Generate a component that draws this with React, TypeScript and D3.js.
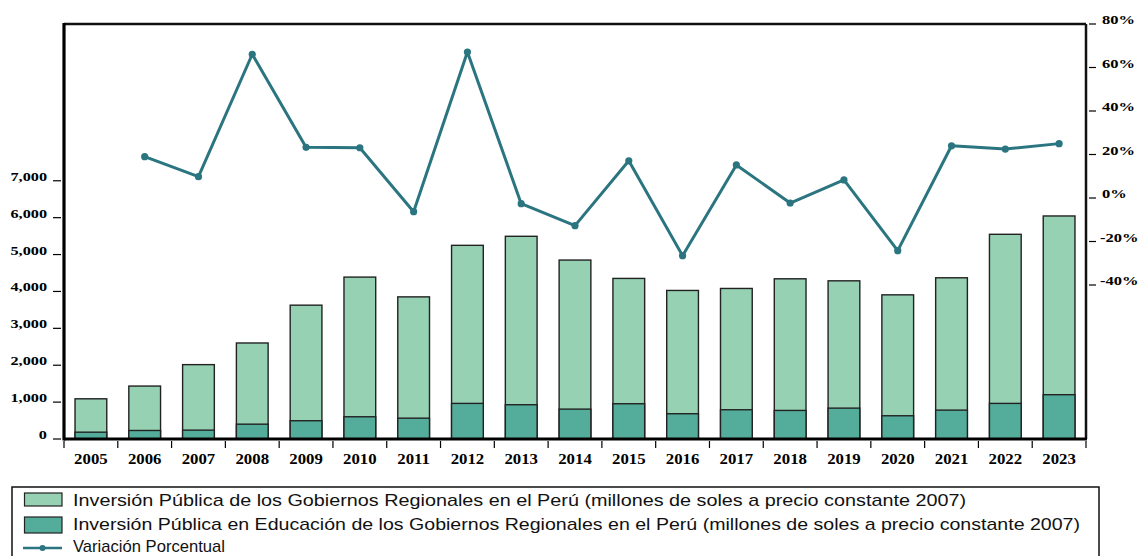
import React from 'react';
import * as d3 from 'd3';

const years = ['2005','2006','2007','2008','2009','2010','2011','2012','2013','2014','2015','2016','2017','2018','2019','2020','2021','2022','2023'];
const totalInv = [1090,1435,2016,2603,3628,4389,3853,5250,5495,4851,4353,4027,4081,4343,4288,3908,4370,5549,6046];
const eduInv = [185,231,240,402,495,603,565,965,929,810,956,685,793,774,837,630,783,965,1201];
const variation: (number | null)[] = [null,19.0,9.8,66.1,23.3,23.1,-6.3,67.1,-2.6,-12.7,17.1,-26.5,15.2,-2.3,8.3,-24.2,24.0,22.5,25.0];
const leftTicks = [0,1000,2000,3000,4000,5000,6000,7000];
const rightTicks = [-40,-20,0,20,40,60,80];
const legendLabels = [
  'Inversión Pública de los Gobiernos Regionales en el Perú (millones de soles a precio constante 2007)',
  'Inversión Pública en Educación de los Gobiernos Regionales en el Perú (millones de soles a precio constante 2007)',
  'Variación Porcentual',
];

const LIGHT = '#96d1b3';
const DARK = '#54ad9b';
const LINE = '#2a7580';

export default function App() {
  const left = 64, right = 1086, top = 24, bottom = 439;
  const x = d3.scaleBand<string>().domain(years).range([left, right]).paddingInner(0.41).paddingOuter(0.205);
  const yL = d3.scaleLinear().domain([0, 11250]).range([bottom, top]);
  const yR = d3.scaleLinear().domain([-110.8, 80]).range([bottom, top]);
  const step = x.step();
  const bw = x.bandwidth();
  const fmt = d3.format(',');
  const pts = years.map((yr, i) => ({ yr, v: variation[i] })).filter(d => d.v !== null) as { yr: string; v: number }[];
  const line = d3.line<{ yr: string; v: number }>().x(d => (x(d.yr) as number) + bw / 2).y(d => yR(d.v));
  const serifStyle = { fontFamily: "'Liberation Serif', 'DejaVu Serif', serif", fontWeight: 700 } as React.CSSProperties;
  const sansStyle = { fontFamily: "'Liberation Sans', Arial, sans-serif" } as React.CSSProperties;

  return (
    <svg width={1143} height={556} style={{ position: 'absolute', left: 0, top: 0, background: '#fff' }}>
      {/* bars */}
      {years.map((yr, i) => (
        <g key={yr}>
          <rect x={x(yr)} y={yL(totalInv[i])} width={bw} height={yL(0) - yL(totalInv[i])} fill={LIGHT} stroke="#222" strokeWidth={1.4} />
          <rect x={x(yr)} y={yL(eduInv[i])} width={bw} height={yL(0) - yL(eduInv[i])} fill={DARK} stroke="#222" strokeWidth={1.4} />
        </g>
      ))}
      {/* line */}
      <path d={line(pts) || ''} fill="none" stroke={LINE} strokeWidth={3} strokeLinejoin="round" />
      {pts.map(d => (
        <circle key={d.yr} cx={(x(d.yr) as number) + bw / 2} cy={yR(d.v)} r={3.6} fill={LINE} />
      ))}
      {/* frame */}
      <line x1={left} x2={right} y1={top} y2={top} stroke="#111" strokeWidth={2.5} />
      <line x1={right} x2={right} y1={top} y2={bottom} stroke="#111" strokeWidth={2.5} />
      <line x1={left} x2={left} y1={top - 1} y2={bottom + 1.5} stroke="#000" strokeWidth={3.2} />
      <line x1={left} x2={right + 1} y1={bottom} y2={bottom} stroke="#000" strokeWidth={3.2} />
      {/* left axis */}
      {leftTicks.map(t => (
        <g key={t}>
          <line x1={53} x2={61} y1={yL(t)} y2={yL(t)} stroke="#000" strokeWidth={1.2} />
          <text transform={`translate(47,${yL(t)}) scale(1.3,1)`} textAnchor="end" style={serifStyle} fontSize={12.5} fill="#000">{fmt(t)}</text>
        </g>
      ))}
      {/* right axis */}
      {rightTicks.map(t => (
        <g key={t}>
          <line x1={1089} x2={1096} y1={yR(t)} y2={yR(t)} stroke="#000" strokeWidth={1.2} />
          <text transform={`translate(${t < 0 ? 1100 : 1102},${yR(t)}) scale(1.27,1)`} textAnchor="start" style={serifStyle} fontSize={13} fill="#000">{`${t}%`}</text>
        </g>
      ))}
      {/* x axis */}
      {years.map((yr, i) => {
        const x0 = (x(yr) as number) - (step - bw) / 2;
        return (
          <g key={yr}>
            <line x1={x0} x2={x0} y1={441} y2={448} stroke="#000" strokeWidth={1.2} />
            {i === years.length - 1 && <line x1={x0 + step} x2={x0 + step} y1={441} y2={448} stroke="#000" strokeWidth={1.2} />}
            <text transform={`translate(${(x(yr) as number) + bw / 2},464) scale(1.2,1)`} textAnchor="middle" style={serifStyle} fontSize={14} fill="#000">{yr}</text>
          </g>
        );
      })}
      {/* legend */}
      <rect x={12} y={487} width={1087} height={80} fill="none" stroke="#111" strokeWidth={1.5} />
      <rect x={24.5} y={493} width={37.5} height={13} fill={LIGHT} stroke="#222" strokeWidth={1.2} />
      <rect x={24.5} y={517} width={37.5} height={16} fill={DARK} stroke="#222" strokeWidth={1.2} />
      <line x1={23} x2={62} y1={548} y2={548} stroke={LINE} strokeWidth={2.5} />
      <circle cx={42.5} cy={548} r={3} fill={LINE} />
      <text x={73} y={506} style={sansStyle} fontSize={17} textLength={893} lengthAdjust="spacingAndGlyphs" fill="#111">{legendLabels[0]}</text>
      <text x={73} y={530} style={sansStyle} fontSize={17} textLength={1007} lengthAdjust="spacingAndGlyphs" fill="#111">{legendLabels[1]}</text>
      <text x={73} y={552} style={sansStyle} fontSize={17} textLength={152} lengthAdjust="spacingAndGlyphs" fill="#111">{legendLabels[2]}</text>
    </svg>
  );
}
